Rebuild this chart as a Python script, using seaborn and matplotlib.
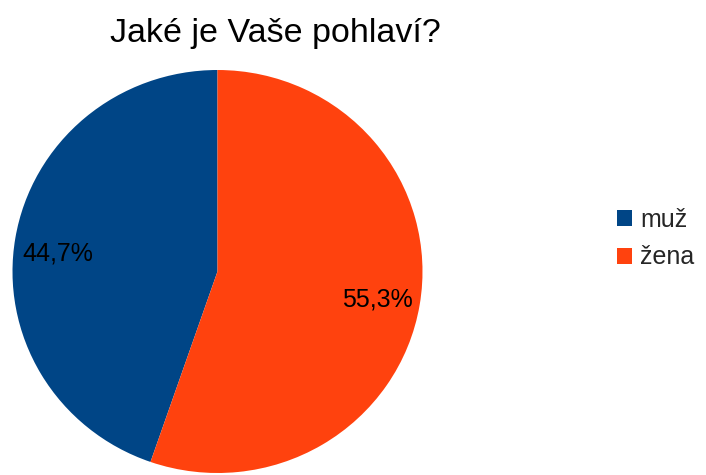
import matplotlib
matplotlib.use("Agg")
import matplotlib.pyplot as plt
from matplotlib.patches import Patch
from matplotlib.transforms import offset_copy
import seaborn as sns

# Survey answers: gender split
categories = ["muž", "žena"]
shares = [44.7, 55.3]
colors = ["#004586", "#ff420e"]
title = "Jaké je Vaše pohlaví?"

sns.set_style("white")
plt.rcParams["font.family"] = ["Liberation Sans", "DejaVu Sans"]
palette = sns.color_palette(colors)

W, H = 706, 475
fig = plt.figure(figsize=(W / 100, H / 100), dpi=100)

# pie area in pixel units (left, top, width, height)
px_left, px_top, px_w, px_h = 12.5, 70, 410, 403
ax = fig.add_axes([px_left / W, 1 - (px_top + px_h) / H, px_w / W, px_h / H])

wedges, texts, autotexts = ax.pie(
    shares,
    colors=palette,
    startangle=90,
    counterclock=True,
    autopct=lambda p: f"{p:.1f}%".replace(".", ","),
    pctdistance=0.79,
    wedgeprops=dict(linewidth=0),
    textprops=dict(fontsize=18, color="black"),
)
ax.set_aspect("auto")
ax.set_xlim(-1, 1)
ax.set_ylim(-1, 1)
ax.axis("off")

# small vertical nudges of the percentage labels (in points)
for t, dy in zip(autotexts, [-6, -1.5]):
    t.set_transform(offset_copy(ax.transData, fig=fig, x=0, y=dy, units="points"))

fig.text(275 / W, 1 - 42 / H, title, ha="center", va="baseline",
         fontsize=24.5, color="black")

handles = [Patch(facecolor=c, edgecolor="none") for c in palette]
fig.legend(handles, categories, loc="center left",
           bbox_to_anchor=(617 / W, 1 - 238.5 / H),
           frameon=False, fontsize=18, handlelength=0.6, handleheight=0.6,
           handletextpad=0.32, labelspacing=0.55, borderpad=0, borderaxespad=0)

fig.savefig("out.png", dpi=100)
